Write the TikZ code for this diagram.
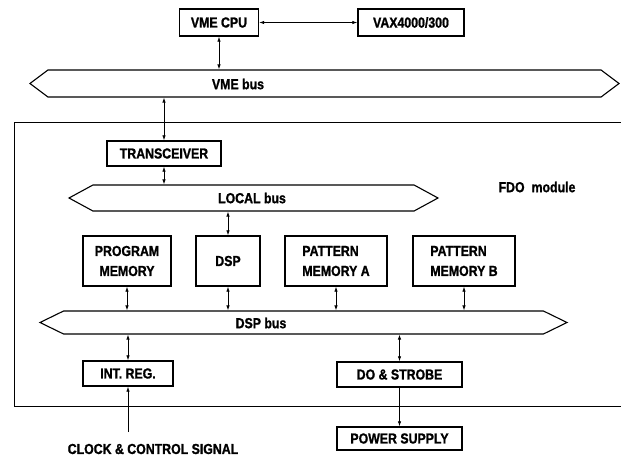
\documentclass[tikz,border=0pt]{standalone}
\usepackage{fontspec}
\setmainfont{Liberation Sans}[FakeStretch=0.85,FakeBold=1.2]
\usetikzlibrary{shapes.symbols,arrows.meta}

\tikzset{
  blk/.style={draw,line width=1.4pt,inner sep=1pt,minimum height=25pt},
  bus/.style={draw,line width=1.1pt,signal,signal to=east and west,inner sep=0pt},
  lnk/.style={{Latex[length=5pt,width=3.5pt]}-{Latex[length=5pt,width=3.5pt]},line width=0.8pt},
}

\begin{document}
\begin{tikzpicture}[x=1pt,y=-1pt,font=\fontsize{14.5}{20}\selectfont\bfseries]
  \useasboundingbox (0,0) rectangle (621,458);
  % host side
  \node[blk,minimum width=79pt,minimum height=27pt] (cpu) at (219,22.5) {VME CPU};
  \node[blk,minimum width=106pt,minimum height=27pt] (vax) at (411,22.5) {VAX4000/300};
  \node[bus,minimum width=589pt,minimum height=27pt,signal pointer angle=74] (vme) at (324.5,83.5) {};
  \node (vmelbl) at (238,84) {VME bus};
  \draw[lnk] (cpu.east) -- (vax.west);
  \draw[lnk] (cpu.south) -- (cpu.south |- vme.north);

  % FDO module frame
  \draw[line width=0.8pt] (621,122) -- (14,122) -- (14,406) -- (621,406);
  \node (fdo) at (537,187) {FDO\hspace{7pt}module};

  \node[blk,minimum width=114pt] (trans) at (164,153.5) {TRANSCEIVER};
  \node[bus,minimum width=369pt,minimum height=26pt,signal pointer angle=57] (local) at (253.5,198) {};
  \node (locallbl) at (252,198) {LOCAL bus};
  \draw[lnk] (vme.south -| trans) -- (trans.north);
  \draw[lnk] (trans.south) -- (trans.south |- local.north);

  \node[blk,minimum width=88pt,minimum height=50pt,align=center] (pm) at (127,261) {PROGRAM\\MEMORY};
  \node[blk,minimum width=64pt,minimum height=50pt] (dsp) at (228,261) {DSP};
  \node[blk,minimum width=102pt,minimum height=50pt,align=left] (pma) at (336,261) {PATTERN\\MEMORY A};
  \node[blk,minimum width=102pt,minimum height=50pt,align=left] (pmb) at (464,261) {PATTERN\\MEMORY B};
  \draw[lnk] (local.south -| dsp) -- (dsp.north);

  \node[bus,minimum width=527pt,minimum height=23pt,signal pointer angle=52] (dspbus) at (303.5,322.5) {};
  \node (dsplbl) at (261,323) {DSP bus};
  \foreach \m in {pm,dsp,pma,pmb}
    \draw[lnk] (\m.south) -- (\m.south |- dspbus.north);

  \node[blk,minimum width=90pt] (intreg) at (128,373.5) {INT. REG.};
  \node[blk,minimum width=125pt] (dostb) at (399.5,374.5) {DO \& STROBE};
  \draw[lnk] (dspbus.south -| intreg) -- (intreg.north);
  \draw[lnk] (dspbus.south -| dostb) -- (dostb.north);

  % outside the module
  \node[blk,minimum width=125pt,minimum height=23pt] (power) at (399.5,438.5) {POWER SUPPLY};
  \draw[-{Latex[length=5pt,width=3.5pt]},line width=0.8pt] (dostb.south) -- (power.north);
  \node (clock) at (153,449) {CLOCK \& CONTROL SIGNAL};
  \coordinate (clk) at (128,432);
  \draw[-{Latex[length=5pt,width=3.5pt]},line width=0.8pt] (clk) -- (intreg.south);
\end{tikzpicture}
\end{document}
